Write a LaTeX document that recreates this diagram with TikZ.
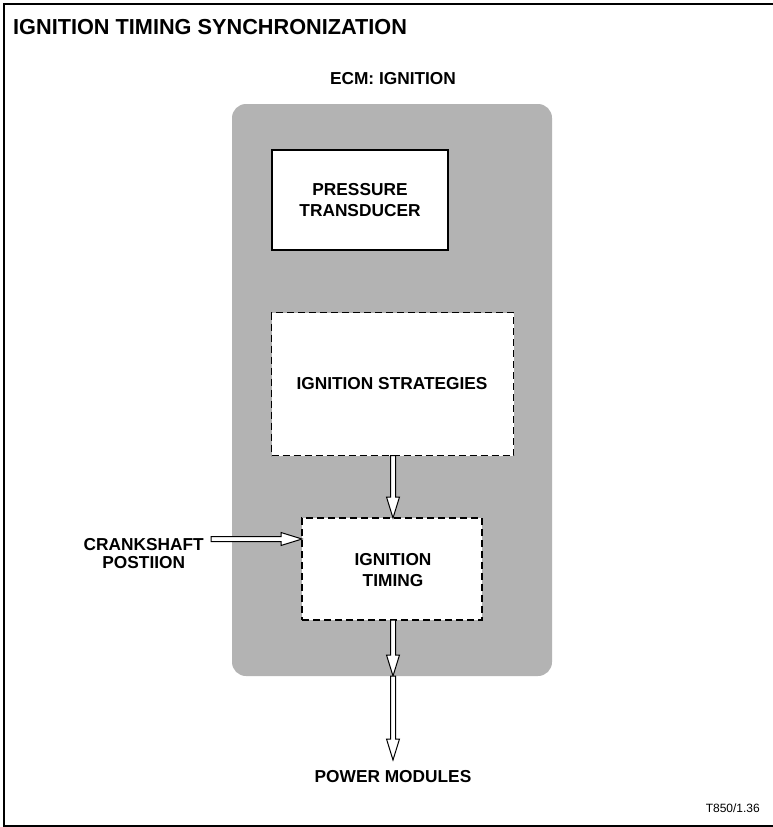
\documentclass[tikz,border=0pt]{standalone}
\usepackage{fontspec}
\setmainfont{Liberation Sans}
\usetikzlibrary{calc}
\definecolor{ecmgray}{RGB}{179,179,179}
\tikzset{
  lbl/.style={inner sep=0pt, font=\fontsize{17.3}{21}\selectfont\bfseries, align=center},
  solidbox/.style={draw=black, line width=1.3pt, fill=white, inner sep=0pt},
  dashbox/.style={draw=black, line width=1.7pt, fill=white, inner sep=0pt, dash pattern=on 7pt off 4pt},
  ecmbox/.style={fill=ecmgray, rounded corners=14pt, inner sep=0pt, minimum width=320pt, minimum height=572pt},
  harrowline/.style={draw=black, line width=1pt, fill=white, line join=miter}
}
\newcommand{\hollowarrow}[2]{%
  \path ($(#2)!21pt!(#1)$) coordinate (hbase);
  \draw[harrowline] ($(#1)!2.5pt!90:(#2)$) -- ($(hbase)!2.5pt!-90:(#1)$) -- ($(hbase)!6.5pt!-90:(#1)$) -- (#2)
    -- ($(hbase)!6.5pt!90:(#1)$) -- ($(hbase)!2.5pt!90:(#1)$) -- ($(#1)!2.5pt!-90:(#2)$) -- cycle;}
\begin{document}
\begin{tikzpicture}[x=1pt,y=-1pt]
\useasboundingbox (0,0) rectangle (773,827);
% frame
\draw[line width=1.5pt] (776,4) -- (4,4) -- (4,826) -- (776,826);
% title
\node[inner sep=0pt, anchor=west, font=\fontsize{21.7}{24}\selectfont\bfseries] (title) at (13,27) {IGNITION TIMING SYNCHRONIZATION};
\node[lbl] (ecmlbl) at (393,79) {ECM: IGNITION};
% ECM box
\node[ecmbox] (ecm) at (392,390) {};
% inner boxes
\node[solidbox, minimum width=176pt, minimum height=100pt] (press) at (360,200) {};
\node[lbl] (presslbl) at (press.center) {PRESSURE\\TRANSDUCER};
\node[dashbox, minimum width=242pt, minimum height=143pt] (strat) at (392.5,384) {};
\node[lbl] (stratlbl) at (392,384) {IGNITION STRATEGIES};
\node[dashbox, minimum width=180pt, minimum height=102pt] (timing) at (392,569) {};
\node[lbl] (timinglbl) at (393,570) {IGNITION\\TIMING};
% external labels
\node[lbl, align=center, anchor=east, font=\fontsize{17.3}{18}\selectfont\bfseries] (crank) at (204,554) {CRANKSHAFT\\POSTIION};
\node[lbl] (pm) at (393,777) {POWER MODULES};
\node[inner sep=0pt, anchor=east, font=\fontsize{12}{14}\selectfont] (ref) at (760,808) {T850/1.36};
% connector coordinates
\coordinate (a1s) at (393,455.5);
\coordinate (a1e) at (393,518);
\coordinate (a2s) at (393,620);
\coordinate (a2e) at (393,676);
\coordinate (a3e) at (393,760);
\coordinate (a4s) at (211,539);
\coordinate (a4e) at (302,539);
\hollowarrow{a1s}{a1e}
\hollowarrow{a2s}{a2e}
\hollowarrow{a2e}{a3e}
\hollowarrow{a4s}{a4e}
\end{tikzpicture}
\end{document}
